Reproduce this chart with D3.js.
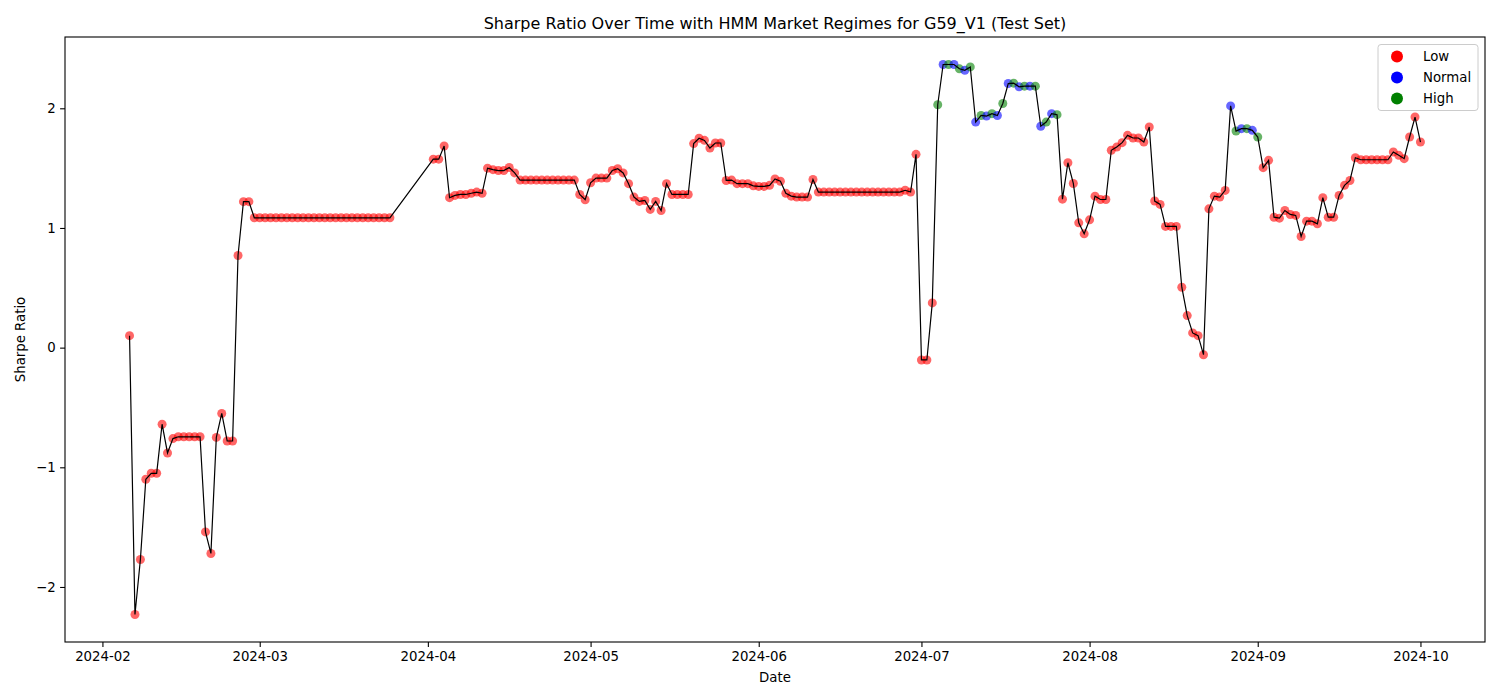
<!DOCTYPE html>
<html>
<head>
<meta charset="utf-8">
<script src="https://cdn.jsdelivr.net/npm/d3@7"></script>
<style>
  body { margin: 0; background: #fff; }
  text { font-family: "DejaVu Sans", sans-serif; }
</style>
</head>
<body>
<div id="chart"></div>
<script>
// daily Sharpe ratio, two runs of consecutive days (gap 2024-03-26 .. 2024-04-01)
var run1Start = "2024-02-06";
var run1Values = [
  0.10, -2.23, -1.77, -1.10, -1.05, -1.05, -0.64, -0.88, -0.76,
  -0.745, -0.745, -0.745, -0.745, -0.745, -1.54, -1.72, -0.75, -0.55, -0.78, -0.78,
  0.77, 1.22, 1.22, 1.085,
  1.085, 1.085, 1.085, 1.085, 1.085, 1.085, 1.085, 1.085, 1.085, 1.085,
  1.085, 1.085, 1.085, 1.085, 1.085, 1.085, 1.085, 1.085, 1.085, 1.085,
  1.085, 1.085, 1.085, 1.085, 1.085
];

var run2Start = "2024-04-02";
var run2Values = [
  // April
  1.575, 1.575, 1.685, 1.253, 1.272, 1.28, 1.28, 1.29, 1.30, 1.29,
  1.50, 1.487, 1.48, 1.48, 1.505, 1.46,
  1.40, 1.40, 1.40, 1.40, 1.40, 1.40, 1.40, 1.40, 1.40, 1.40, 1.40,
  1.28, 1.236,
  // May
  1.378, 1.417, 1.417, 1.417, 1.48, 1.495, 1.46, 1.37, 1.258, 1.222,
  1.23, 1.155, 1.222, 1.146, 1.37, 1.28, 1.28, 1.28, 1.28, 1.705,
  1.75, 1.732, 1.668, 1.71, 1.71, 1.397, 1.40, 1.37, 1.37, 1.37, 1.352,
  // June
  1.347, 1.347, 1.356, 1.41, 1.39, 1.29, 1.266, 1.258, 1.258, 1.258,
  1.405, 1.30, 1.30, 1.30, 1.30, 1.30, 1.30, 1.30, 1.30, 1.30,
  1.30, 1.30, 1.30, 1.30, 1.30, 1.30, 1.30, 1.315, 1.30, 1.615,
  // July
  -0.103, -0.103, 0.374, 2.03, 2.366, 2.366, 2.366, 2.33, 2.318, 2.346,
  1.885, 1.94, 1.935, 1.955, 1.94, 2.04, 2.207, 2.21, 2.18, 2.185,
  2.185, 2.185, 1.85, 1.885, 1.955, 1.947, 1.241, 1.545, 1.372, 1.043, 0.951,
  // August
  1.068, 1.266, 1.238, 1.238, 1.649, 1.676, 1.713, 1.774, 1.752, 1.752,
  1.718, 1.844, 1.225, 1.197, 1.013, 1.013, 1.013, 0.505, 0.268, 0.123,
  0.10, -0.059, 1.16, 1.266, 1.258, 1.314, 2.02, 1.81, 1.83, 1.83, 1.816,
  // September
  1.76, 1.504, 1.565, 1.09, 1.082, 1.146, 1.113, 1.105, 0.929, 1.057,
  1.057, 1.035, 1.253, 1.09, 1.09, 1.272, 1.356, 1.397, 1.587, 1.57,
  1.57, 1.57, 1.57, 1.57, 1.57, 1.635, 1.607, 1.579, 1.76, 1.927,
  // October
  1.718
];

// regime labels; every day not listed here is "Low"
var normalDates = [
  "2024-07-05", "2024-07-07", "2024-07-09", "2024-07-11", "2024-07-13", "2024-07-15",
  "2024-07-17", "2024-07-19", "2024-07-21", "2024-07-23", "2024-07-25",
  "2024-08-27", "2024-08-29", "2024-08-31"
];
var highDates = [
  "2024-07-04", "2024-07-06", "2024-07-08", "2024-07-10", "2024-07-12", "2024-07-14",
  "2024-07-16", "2024-07-18", "2024-07-20", "2024-07-22", "2024-07-24", "2024-07-26",
  "2024-08-28", "2024-08-30", "2024-09-01"
];

var regimeNames = ["Low", "Normal", "High"];
var regimeColors = ["red", "blue", "green"];

var svgWidth = 1500;
var svgHeight = 700;
var margin = { top: 37, right: 15, bottom: 58, left: 65 };
var width = svgWidth - margin.left - margin.right;
var height = svgHeight - margin.top - margin.bottom;

var parseDate = d3.utcParse("%Y-%m-%d");
var fmtDate = d3.utcFormat("%Y-%m-%d");

// build the point list
var data = [];
[[run1Start, run1Values], [run2Start, run2Values]].forEach(function(run) {
  var start = parseDate(run[0]);
  run[1].forEach(function(v, i) {
    var date = d3.utcDay.offset(start, i);
    var key = fmtDate(date);
    var regime = "Low";
    if (normalDates.indexOf(key) >= 0) regime = "Normal";
    if (highDates.indexOf(key) >= 0) regime = "High";
    data.push({ date: date, value: v, regime: regime });
  });
});

var svg = d3.select("#chart")
  .append("svg")
  .attr("width", svgWidth)
  .attr("height", svgHeight);

var chartGroup = svg.append("g")
  .attr("transform", `translate(${margin.left}, ${margin.top})`);

// matplotlib style 5% padding on both axes
var xExt = d3.extent(data, d => d.date);
var xPad = (xExt[1] - xExt[0]) * 0.05;
var xScale = d3.scaleUtc()
  .domain([new Date(+xExt[0] - xPad), new Date(+xExt[1] + xPad)])
  .range([0, width]);

var yExt = d3.extent(data, d => d.value);
var yPad = (yExt[1] - yExt[0]) * 0.05;
var yScale = d3.scaleLinear()
  .domain([yExt[0] - yPad, yExt[1] + yPad])
  .range([height, 0]);

var colorScale = d3.scaleOrdinal().domain(regimeNames).range(regimeColors);

// axes
var bottomAxis = d3.axisBottom(xScale)
  .ticks(d3.utcMonth.every(1))
  .tickFormat(d3.utcFormat("%Y-%m"))
  .tickSize(4.9).tickSizeOuter(0).tickPadding(4.5);
var leftAxis = d3.axisLeft(yScale)
  .ticks(5)
  .tickSize(4.9).tickSizeOuter(0).tickPadding(4.5);

var gx = chartGroup.append("g")
  .attr("transform", `translate(0, ${height})`)
  .call(bottomAxis);
var gy = chartGroup.append("g")
  .call(leftAxis);

[gx, gy].forEach(function(g) {
  g.select(".domain").remove();
  g.selectAll(".tick line").attr("stroke", "#000").attr("stroke-width", 1.1);
  g.selectAll(".tick text")
    .attr("fill", "#000")
    .style("font-size", "13.3px")
    .style("font-family", "'DejaVu Sans', sans-serif");
});

// scatter by regime
chartGroup.append("g")
  .selectAll("circle")
  .data(data)
  .enter()
  .append("circle")
  .attr("cx", d => xScale(d.date))
  .attr("cy", d => yScale(d.value))
  .attr("r", 4.5)
  .attr("fill", d => colorScale(d.regime))
  .attr("opacity", 0.6);

// connecting line
var line = d3.line()
  .x(d => xScale(d.date))
  .y(d => yScale(d.value));

chartGroup.append("path")
  .datum(data)
  .attr("d", line)
  .attr("fill", "none")
  .attr("stroke", "#000")
  .attr("stroke-width", 1.2);

// frame
chartGroup.append("rect")
  .attr("width", width)
  .attr("height", height)
  .attr("fill", "none")
  .attr("stroke", "#000")
  .attr("stroke-width", 1.1);

// title and labels
svg.append("text")
  .attr("x", margin.left + width / 2)
  .attr("y", 29)
  .attr("text-anchor", "middle")
  .style("font-size", "16px")
  .text("Sharpe Ratio Over Time with HMM Market Regimes for G59_V1 (Test Set)");

svg.append("text")
  .attr("x", margin.left + width / 2)
  .attr("y", 682)
  .attr("text-anchor", "middle")
  .style("font-size", "13.3px")
  .text("Date");

svg.append("text")
  .attr("transform", `translate(25, ${margin.top + height / 2}) rotate(-90)`)
  .attr("text-anchor", "middle")
  .style("font-size", "13.3px")
  .text("Sharpe Ratio");

// legend
var legend = svg.append("g")
  .attr("transform", "translate(1378, 44.5)");

legend.append("rect")
  .attr("width", 100)
  .attr("height", 66)
  .attr("rx", 3)
  .attr("fill", "#fff")
  .attr("fill-opacity", 0.8)
  .attr("stroke", "#cccccc")
  .attr("stroke-width", 1);

var item = legend.selectAll(".item")
  .data(regimeNames)
  .enter()
  .append("g")
  .attr("transform", (d, i) => `translate(0, ${12 + i * 21})`);

item.append("circle")
  .attr("cx", 19)
  .attr("r", 6)
  .attr("fill", d => colorScale(d));

item.append("text")
  .attr("x", 45)
  .attr("y", 4.8)
  .style("font-size", "13.3px")
  .text(d => d);
</script>
</body>
</html>
